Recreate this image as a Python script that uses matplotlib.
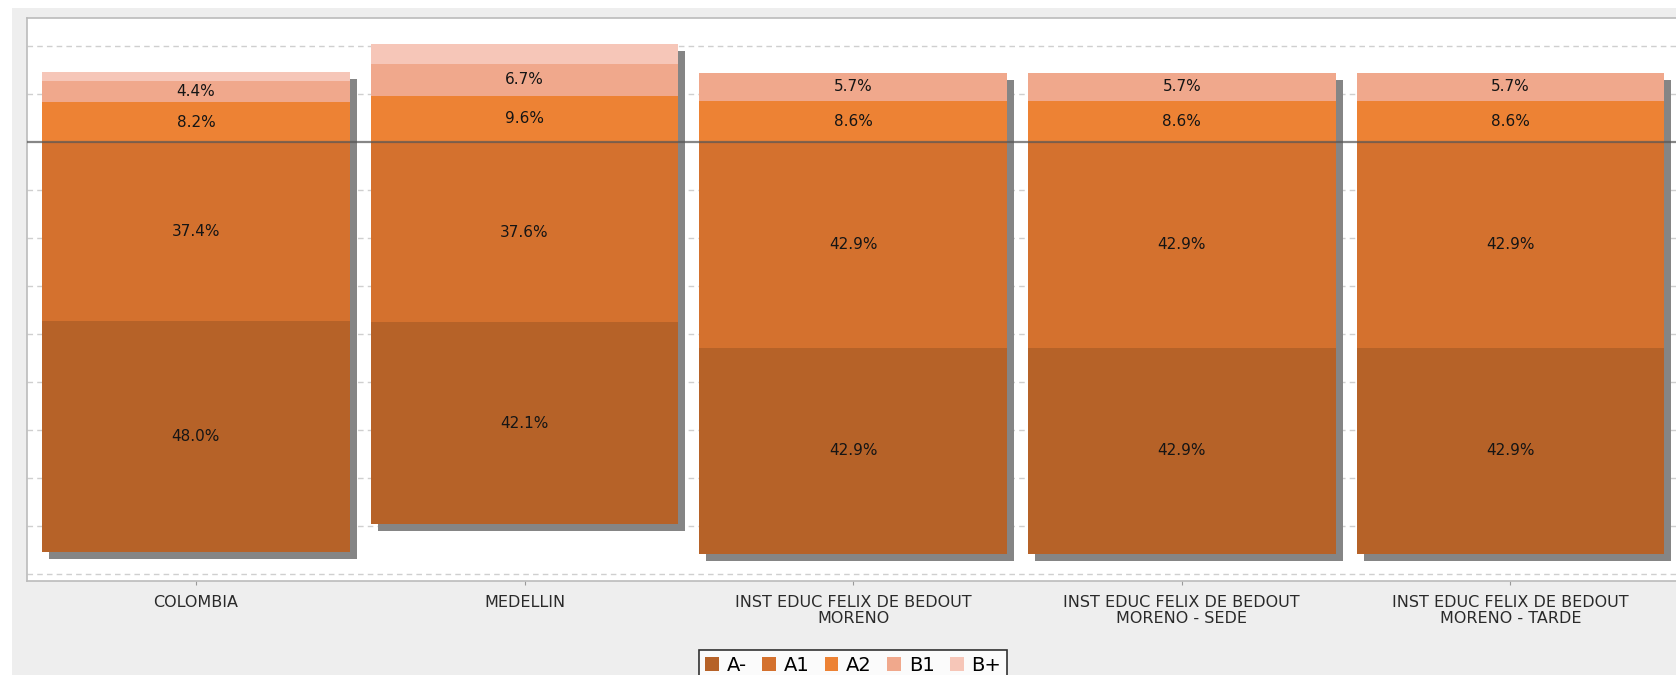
import matplotlib
matplotlib.use("Agg")
import matplotlib.pyplot as plt
import matplotlib.patheffects as pe
from matplotlib.patches import Rectangle, Patch
import numpy as np

# datos del grafico (porcentaje por nivel)
categorias = ["COLOMBIA", "MEDELLIN", "INST EDUC FELIX DE BEDOUT\nMORENO",
              "INST EDUC FELIX DE BEDOUT\nMORENO - SEDE", "INST EDUC FELIX DE BEDOUT\nMORENO - TARDE"]
a_menos = [48.0, 42.1, 42.9, 42.9, 42.9]
a1 = [37.4, 37.6, 42.9, 42.9, 42.9]
a2 = [8.2, 9.6, 8.6, 8.6, 8.6]
b1 = [4.4, 6.7, 5.7, 5.7, 5.7]
b_mas = [2.0, 4.0, 0.0, 0.0, 0.0]

niveles = ["A-", "A1", "A2", "B1", "B+"]
colores = ["#B66228", "#D4712E", "#ED8234", "#F0A88C", "#F6C6B8"]

fig = plt.figure(figsize=(16.76, 6.75), dpi=100, facecolor="white")
# panel gris de fondo
fig.patches.append(Rectangle((12 / 1676, 0), 1, 1 - 8 / 675, transform=fig.transFigure,
                             facecolor="#EEEEEE", edgecolor="none", zorder=-10))
ax = fig.add_axes([27 / 1676, 1 - 581 / 675, 1 - 27 / 1676 + 0.002, (581 - 18) / 675])
ax.set_zorder(5)
ax.set_facecolor("white")

x = np.arange(len(categorias))
w = 0.936
neg1 = -np.array(a1)
neg2 = -(np.array(a1) + np.array(a_menos))
pos1 = np.array(a2)
pos2 = pos1 + np.array(b1)
total = np.array(a_menos) + np.array(a1) + np.array(a2) + np.array(b1) + np.array(b_mas)

# sombra
ax.bar(x, total, w, bottom=neg2, color="#858585", zorder=2,
       path_effects=[pe.SimplePatchShadow(offset=(5, -5), shadow_rgbFace="#858585", alpha=1)])

ax.bar(x, a_menos, w, bottom=neg2, color=colores[0], zorder=3)
ax.bar(x, a1, w, bottom=neg1, color=colores[1], zorder=3)
ax.bar(x, a2, w, bottom=0, color=colores[2], zorder=3)
ax.bar(x, b1, w, bottom=pos1, color=colores[3], zorder=3)
ax.bar(x, b_mas, w, bottom=pos2, color=colores[4], zorder=3)

for i in range(len(x)):
    for val, base in [(a_menos[i], neg2[i]), (a1[i], neg1[i]), (a2[i], 0), (b1[i], pos1[i])]:
        ax.text(x[i], base + val / 2, "%.1f%%" % val, ha="center", va="center",
                fontsize=11, color="#151515", zorder=5)

for g in range(-90, 30, 10):
    if g == 0:
        continue
    ax.axhline(g, color="#CFCFCF", lw=1, ls=(0, (4, 3)), zorder=1)
ax.axhline(0, color="#555555", lw=1.6, alpha=0.7, zorder=4)

ax.set_xlim(-0.514, 4.514)
ax.set_ylim(-91.5, 25.8)
ax.set_yticks([])
ax.set_xticks(x)
ax.set_xticklabels(categorias, fontsize=11.5, color="#2A2A2A", linespacing=1.12)
ax.tick_params(axis="x", length=3, color="#999999", pad=7)
for s in ax.spines.values():
    s.set_color("#BBBBBB")
    s.set_linewidth(1.2)

handles = [Patch(facecolor=c, edgecolor="none") for c in colores]
leg = ax.legend(handles, niveles, loc="upper center", bbox_to_anchor=(0.5, -0.105), ncol=5,
                fontsize=14, frameon=True, fancybox=False, handlelength=0.7, handleheight=0.7,
                handletextpad=0.4, columnspacing=0.8, borderpad=0.3)
leg.get_frame().set_edgecolor("black")
leg.get_frame().set_linewidth(1.2)

fig.savefig("out.png", dpi=100, facecolor=fig.get_facecolor())
